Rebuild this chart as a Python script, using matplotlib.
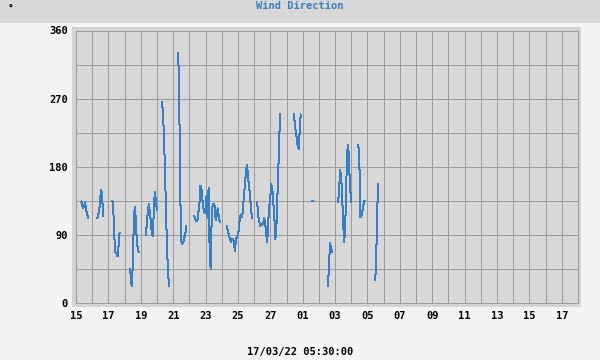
import numpy as np
import matplotlib
matplotlib.use("Agg")
import matplotlib.pyplot as plt
from matplotlib.patches import Rectangle

# wind direction readings (degrees), sampled every 1.5 h, split where the logger had gaps
step_h = 1.5
seg_start_h = [7.5, 31.5, 54.0, 79.5, 103.5, 127.5, 151.5, 175.5, 223.5,
               268.5, 322.5, 349.5, 373.5, 388.5, 418.5, 443.5]
seg_values = [
    [134, 130, 125, 128, 134, 122, 118, 112],
    [112, 116, 123, 140, 150, 135, 115],
    [135, 118, 85, 67, 65, 62, 75, 92],
    [45, 38, 22, 48, 100, 127, 112, 85, 72, 67],
    [90, 105, 122, 131, 120, 106, 92, 88, 130, 147, 132, 123],
    [266, 250, 216, 172, 116, 70, 39, 22],
    [330, 269, 145, 83, 78, 80, 86, 92, 101],
    [115, 110, 108, 110, 120, 132, 155, 150, 135, 125, 119, 125, 141,
     112, 152, 72, 45, 108, 130, 131, 128, 110, 115, 125, 115, 107],
    [101, 95, 90, 85, 81, 84, 85, 81, 68, 83, 88, 90, 99, 114, 116,
     114, 123, 145, 156, 176, 183, 165, 156, 140, 123, 112],
    [134, 116, 108, 102, 103, 104, 106, 112, 104, 90, 81, 110, 127,
     141, 157, 150, 130, 112, 84, 101, 139, 180, 225, 249],
    [249, 240, 228, 218, 208, 203, 225, 249],
    [135, 135],
    [22, 50, 79, 73, 67],
    [134, 150, 176, 167, 140, 105, 80, 100, 156, 200, 209, 175, 150, 134],
    [209, 185, 113, 115, 121, 130, 135],
    [30, 62, 125, 157],
]

x_ticks = list(range(0, 31, 2))
x_labels = ["15", "17", "19", "21", "23", "25", "27", "01", "03", "05",
            "07", "09", "11", "13", "15", "17"]
y_ticks = [0, 90, 180, 270, 360]

xs, ys = [], []
for start, vals in zip(seg_start_h, seg_values):
    t = (start + step_h * np.arange(len(vals))) / 24.0
    xs.extend(t.tolist() + [np.nan])
    ys.extend(list(vals) + [np.nan])

fig = plt.figure(figsize=(6, 3.6), dpi=100, facecolor="#f4f4f4")
mono = "DejaVu Sans Mono"

# header band and plot frame
fig.patches.append(Rectangle((0, 1 - 23 / 360), 1, 23 / 360, transform=fig.transFigure,
                             facecolor="#d8d8d8", edgecolor="none", zorder=0))
fig.patches.append(Rectangle((72 / 600, 53 / 360), 509 / 600, 280 / 360,
                             transform=fig.transFigure, facecolor="#d4d4d4",
                             edgecolor="none", zorder=0))

ax = fig.add_axes([76 / 600, 57 / 360, 502 / 600, 272.5 / 360])
ax.set_zorder(2)
ax.set_facecolor("#d8d8d8")
ax.plot(xs, ys, color="#3a7fc1", lw=0.72, antialiased=False, zorder=3)

ax.set_xlim(0, 31)
ax.set_ylim(0, 360)
ax.set_xticks(x_ticks)
ax.set_xticklabels(x_labels)
ax.set_xticks(range(0, 32), minor=True)
ax.set_yticks(y_ticks)
ax.set_yticks(range(0, 361, 45), minor=True)
ax.grid(which="both", color="#9c9c9c", lw=0.72, antialiased=False)
ax.set_axisbelow(True)
for s in ax.spines.values():
    s.set_color("#9c9c9c")
    s.set_linewidth(0.72)
ax.tick_params(which="both", length=0)
ax.tick_params(axis="x", pad=6)
ax.tick_params(axis="y", pad=6)
for lab in ax.get_xticklabels() + ax.get_yticklabels():
    lab.set_fontfamily(mono)
    lab.set_fontweight("bold")
    lab.set_fontsize(7.5)

fig.text(0.5, 1 - 6 / 360, "Wind Direction", ha="center", va="center",
         family=mono, weight="bold", fontsize=7.5, color="#3a7fc1")
fig.text(11 / 600, 1 - 8 / 360, "°", ha="center", va="center",
         family=mono, weight="bold", fontsize=7, color="black")
fig.text(0.5, 1 - 352 / 360, "17/03/22 05:30:00", ha="center", va="center",
         family=mono, weight="bold", fontsize=7.5, color="black")

fig.savefig("out.png", dpi=100, facecolor=fig.get_facecolor())
